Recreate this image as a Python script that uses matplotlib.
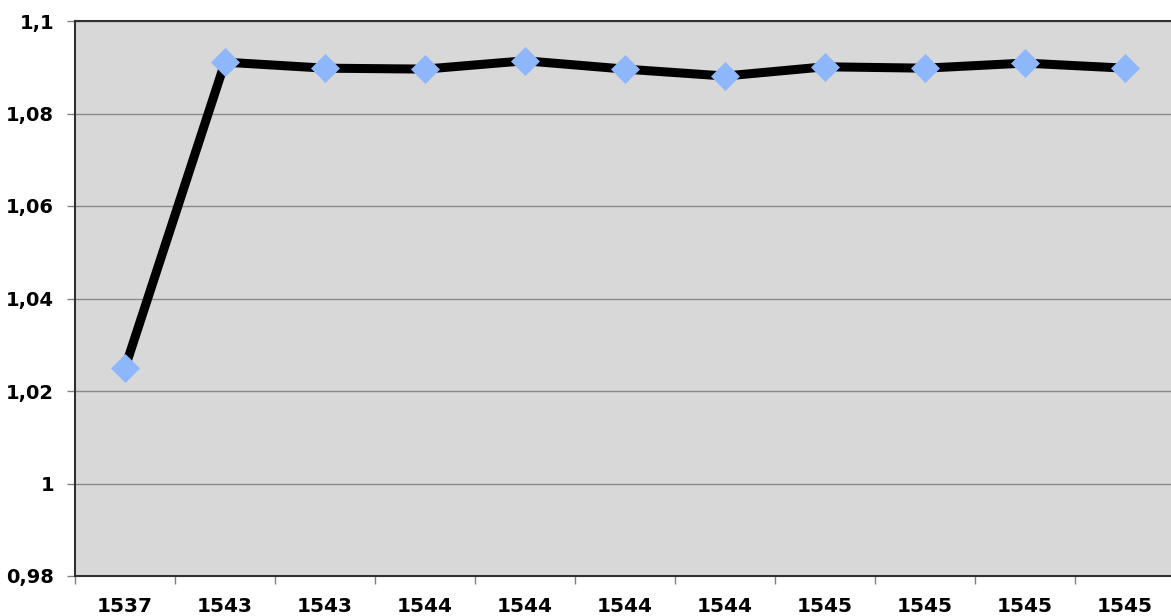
import matplotlib.pyplot as plt
from matplotlib.ticker import FixedLocator
import numpy as np

# chart data
labels = ['1537', '1543', '1543', '1544', '1544', '1544',
          '1544', '1545', '1545', '1545', '1545']
values = [1.0250, 1.0911, 1.0898, 1.0896, 1.0914, 1.0896,
          1.0881, 1.0901, 1.0898, 1.0909, 1.0898]
y_ticks = [0.98, 1.0, 1.02, 1.04, 1.06, 1.08, 1.1]
y_tick_labels = ['0,98', '1', '1,02', '1,04', '1,06', '1,08', '1,1']

fig = plt.figure(figsize=(11.71, 6.16), dpi=100)
ax = fig.add_axes([75 / 1171, 40 / 616, 1100 / 1171, 555 / 616])
ax.set_facecolor('#d8d8d8')

x = np.arange(len(values))
ax.plot(x, values, color='black', linewidth=6.5, solid_joinstyle='miter',
        marker='D', markersize=14, markerfacecolor='#8db6fb',
        markeredgecolor='#8db6fb', markeredgewidth=0.5, zorder=3)

ax.set_xlim(-0.5, len(values) - 0.5)
ax.set_ylim(0.98, 1.1)

# y axis
ax.set_yticks(y_ticks)
ax.set_yticklabels(y_tick_labels)
ax.yaxis.grid(True, color='#8a8a8a', linewidth=1)
ax.tick_params(axis='y', direction='out', length=6, width=1, color='#808080',
               pad=9, labelsize=14)

# x axis: labels at centers, ticks at category boundaries
ax.set_xticks(x)
ax.set_xticklabels(labels)
ax.xaxis.set_minor_locator(FixedLocator(np.arange(-0.5, len(values), 1.0)))
ax.tick_params(axis='x', which='major', length=0, pad=15, labelsize=14.5)
ax.tick_params(axis='x', which='minor', direction='out', length=6, width=1,
               color='#808080')

for lab in ax.get_xticklabels() + ax.get_yticklabels():
    lab.set_fontweight('bold')

for side in ['top', 'left', 'bottom', 'right']:
    ax.spines[side].set_color('#303030')
    ax.spines[side].set_linewidth(1.5)

fig.savefig('out.png', dpi=100)
